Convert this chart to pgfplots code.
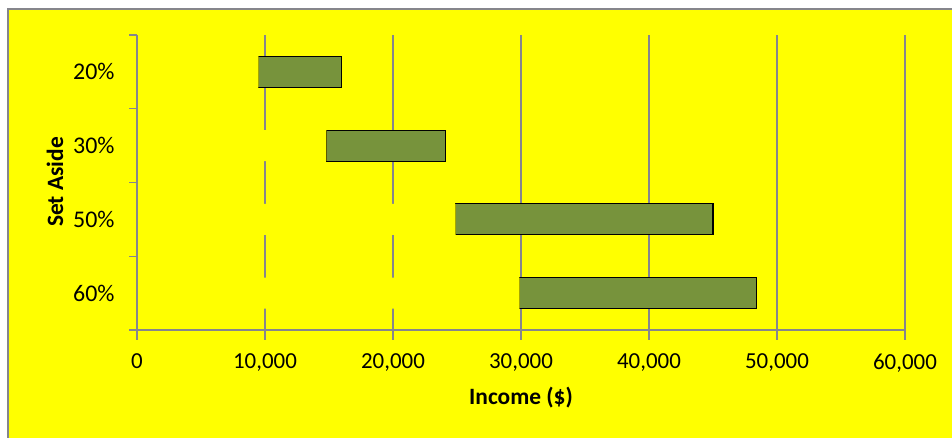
\documentclass[border=0pt]{standalone}
\usepackage{fontspec}
\setmainfont{Carlito}
\usepackage{pgfplots}
\pgfplotsset{compat=1.18}
\definecolor{bg}{RGB}{255,255,0}
\definecolor{barc}{RGB}{119,147,60}
\definecolor{gridc}{RGB}{134,134,140}
\begin{document}
\begin{tikzpicture}[x=1bp,y=1bp]
\useasboundingbox (0,0) rectangle (952,438);
\fill[white] (0,0) rectangle (952,438);
\filldraw[fill=bg, draw=gridc, line width=2bp] (8,-10) rectangle (965,429);
\begin{axis}[
  at={(137bp,108bp)}, anchor=south west,
  scale only axis, width=768bp, height=295bp,
  xmin=0, xmax=60000, ymin=-0.5, ymax=3.5,
  axis lines*=left,
  axis line style={gridc, line width=1.5bp},
  xtick={0,10000,20000,30000,40000,50000,60000},
  scaled x ticks=false,
  xticklabel={\pgfmathprintnumber[assume math mode=true,1000 sep={,},fixed]{\tick}},
  ytick={0,1,2,3}, yticklabels={60\%,50\%,30\%,20\%},
  minor ytick={-0.5,0.5,1.5,2.5,3.5},
  tick align=outside,
  major tick length=10bp, minor tick length=8bp,
  every major x tick/.append style={gridc, line width=1.3bp},
  every major y tick/.append style={draw=none},
  every minor y tick/.append style={gridc, line width=1.3bp},
  xmajorgrids, grid style={gridc, line width=1.3bp},
  xticklabel style={font=\fontsize{23}{27}\selectfont, yshift=-10.5bp},
  yticklabel style={font=\fontsize{24}{28}\selectfont, xshift=-9bp},
  xbar stacked, bar width=31bp,
]
\addplot[fill=bg, draw=none] coordinates {(29900,0) (24900,1) (14800,2) (9500,3)};
\addplot[fill=barc, draw=black, line width=1.2bp] coordinates {(18500,0) (20100,1) (9300,2) (6500,3)};
\end{axis}
\draw[gridc, line width=1.5bp] (137,108) -- (137,403);
\node[font=\fontsize{23.5}{28}\selectfont\bfseries] at (521,40) {Income (\$)};
\node[rotate=90, font=\fontsize{23.5}{28}\selectfont\bfseries] at (55,256) {Set Aside};
\end{tikzpicture}
\end{document}
